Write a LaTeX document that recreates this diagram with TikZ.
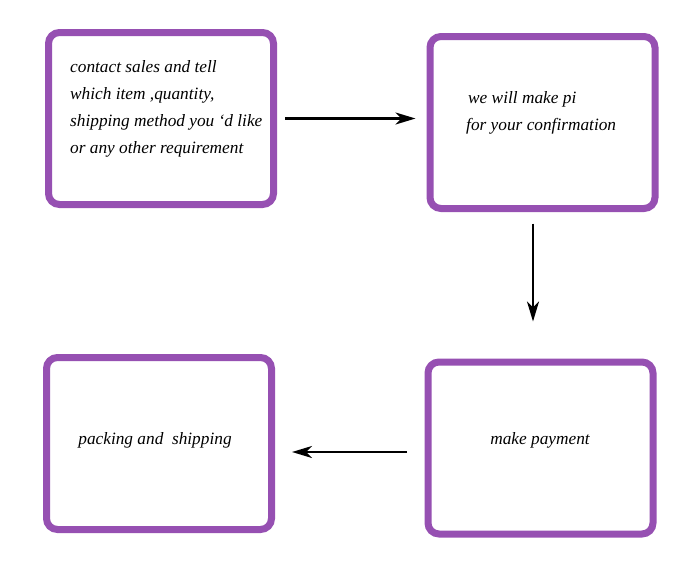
\documentclass[tikz,border=0pt]{standalone}
\usepackage{fontspec}
\usepackage{tikz}
\usepackage{xcolor}
\setmainfont{Liberation Serif}
\usetikzlibrary{arrows.meta}
\definecolor{boxpurple}{RGB}{150,80,178}
\tikzset{
  stepbox/.style={draw=boxpurple, line width=7pt, rounded corners=11pt, fill=white, minimum width=225pt, minimum height=172pt, inner sep=0pt},
  boxtext/.style={font=\fontsize{17.3}{27}\selectfont\itshape, align=left, inner sep=0pt},
  flow/.style={line width=2.4pt, -{Stealth[length=20pt, width=12pt, inset=6pt]}}
}

\begin{document}
\begin{tikzpicture}[x=1pt, y=-1pt]
  \useasboundingbox (0,0) rectangle (673,573);
  \node[stepbox] (b1) at (161,118.5) {}; \node[stepbox] (b2) at (542.5,122.5) {};
  \node[stepbox] (b3) at (540.5,448) {}; \node[stepbox] (b4) at (159,443.5) {};
  \node[boxtext, anchor=west] (t1) at (70,109) {contact sales and tell\\which item ,quantity,\\shipping method you ‘d like\\or any other requirement};
  \node[boxtext, anchor=west] (t2) at (466,113) {\hspace*{2pt}we will make pi\\for your confirmation};
  \node[boxtext] (t3) at (540,440) {make payment};
  \node[boxtext] (t4) at (155,440) {packing and\ \ shipping};
  \draw[flow] ([xshift=8pt]b1.east) -- ([xshift=-11pt]b1.east -| b2.west);
  \draw[flow] ([xshift=-9.5pt, yshift=-11.5pt]b2.south) -- ([xshift=-7.5pt, yshift=37pt]b3.north);
  \draw[flow] ([yshift=-4pt, xshift=-17.5pt]b3.west) -- ([yshift=-4pt, xshift=17pt]b3.west -| b4.east);
\end{tikzpicture}
\end{document}
